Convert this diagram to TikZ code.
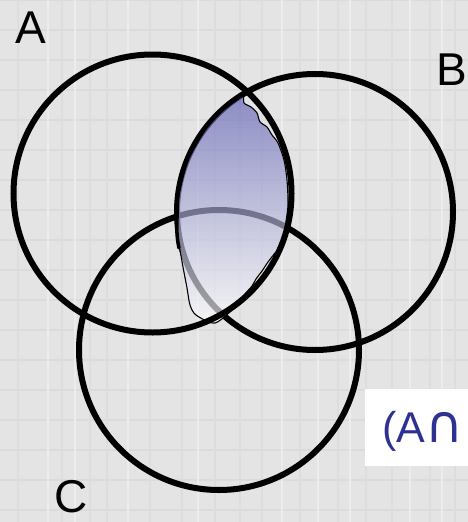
\documentclass[tikz,border=0pt]{standalone}
\usepackage{fontspec}
\setmainfont{Liberation Sans}
\newfontfamily\symfont{DejaVu Sans}
\definecolor{bgc}{RGB}{228,228,228}
\definecolor{hl}{RGB}{219,219,219}
\definecolor{vl}{RGB}{221,221,221}
\definecolor{vw}{RGB}{236,236,236}
\definecolor{lenstop}{RGB}{92,94,178}
\definecolor{navytext}{RGB}{46,49,146}
\begin{document}
\begin{tikzpicture}[x=1pt,y=-1pt,
  ring/.style={draw=black,line width=6pt},
  lbl/.style={anchor=base west,inner sep=0pt,font=\fontsize{46}{50}\selectfont},
  hline/.style={draw=hl,line width=1.6pt},
  vline/.style={draw=vl,line width=1.8pt},
  wline/.style={draw=vw,line width=2pt}]
\useasboundingbox (0,0) rectangle (468,522);
\clip (0,0) rectangle (468,522);
% background plaid
\fill[bgc] (0,0) rectangle (468,522);
\foreach \yy in {0,30,...,510} \draw[hline] (0,\yy) -- (468,\yy);
\foreach \xx in {18,62,90,107,150,182,215,240,262,300,338,366,392,430,455} \draw[vline] (\xx,0) -- (\xx,522);
\foreach \xx in {48,75,128,198,282,318,350,410,442} \draw[wline] (\xx,0) -- (\xx,522);
% circles C and B
\draw[ring] (219,350) circle (140);
\draw[ring] (315,212) circle (138);
% lens A and B
\shade[top color=lenstop,bottom color=white,fill opacity=0.65]
  plot[smooth cycle,tension=0.45] coordinates {
   (242,95) (222,110) (204,130) (187.2,160) (178.1,195) (177,233)
   (180,250) (183,267) (187,288) (190,305) (196,315) (215,323)
   (235,307) (245,294) (252,286) (256,279) (262,271) (268,262)
   (275,253) (281,246) (285,228) (288,205) (287,180) (284,160)
   (278,143) (272,135) (267,127) (260,122) (257,113) (251,107) (244,103)};
\draw[black,line width=1.1pt]
  plot[smooth cycle,tension=0.45] coordinates {
   (242,95) (222,110) (204,130) (187.2,160) (178.1,195) (177,233)
   (180,250) (183,267) (187,288) (190,305) (196,315) (215,323)
   (235,307) (245,294) (252,286) (256,279) (262,271) (268,262)
   (275,253) (281,246) (285,228) (288,205) (287,180) (284,160)
   (278,143) (272,135) (267,127) (260,122) (257,113) (251,107) (244,103)};
\draw[black,line width=3.5pt,line cap=round]
  plot[smooth,tension=0.45] coordinates {
   (242,95) (222,110) (204,130) (187.2,160) (178.1,195) (177,233) (179,248)};
% circle A
\draw[ring] (152.5,193.5) circle (139);
% labels
\node[lbl] (la) at (15,43) {A};
\node[lbl] (lb) at (436.6,85) {B};
\node[lbl] (lc) at (54.7,512) {C};
% text box
\fill[white] (365,389) rectangle (470,466);
\node[anchor=base west,inner sep=0pt,text=navytext,font=\fontsize{43}{48}\selectfont] (expr) at (382,442) {(A{\symfont\fontsize{52}{56}\selectfont ∩}};
\end{tikzpicture}
\end{document}
